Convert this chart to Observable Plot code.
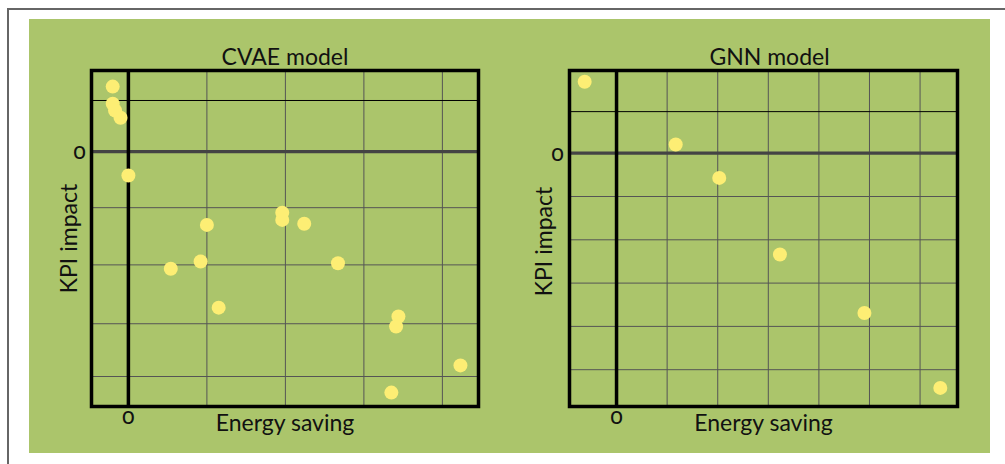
<!DOCTYPE html>
<html>
<head>
<meta charset="utf-8">
<script src="https://cdn.jsdelivr.net/npm/d3@7"></script>
<script src="https://cdn.jsdelivr.net/npm/@observablehq/plot@0.6"></script>
<style>
  html, body { margin: 0; padding: 0; background: #fff; width: 1005px; height: 464px; overflow: hidden; }
  #outer { position: absolute; left: 7px; top: 8px; width: 1020px; height: 480px; border: 2px solid #666; box-sizing: border-box; }
  #green { position: absolute; left: 29px; top: 19px; width: 961px; height: 434px; background: #abc56b; }
  #left { position: absolute; left: 29px; top: 19px; }
  #right { position: absolute; left: 509px; top: 19px; }
  svg text { font-family: Lato, "Noto Sans", sans-serif; }
  svg g.zero text { font-family: "Noto Sans", sans-serif; font-variant-numeric: oldstyle-nums; }
</style>
</head>
<body>
<div id="outer"></div>
<div id="green"></div>
<div id="left"></div>
<div id="right"></div>
<script>
// ---- CVAE model (left panel) ----
const cvaeEnergy = [-0.20, -0.20, -0.17, -0.10, 0.00, 1.00, 0.54, 0.92, 1.15, 1.96, 1.96, 2.24, 2.67, 3.44, 3.41, 4.23, 3.35];
const cvaeKpi    = [1.17, 0.86, 0.74, 0.61, -0.43, -1.32, -2.11, -1.98, -2.81, -1.10, -1.23, -1.30, -2.01, -2.97, -3.15, -3.85, -4.34];
const cvaeXGrid = [1, 2, 3, 4];
const cvaeYGridTop = [0.92];
const cvaeYGrid = [-1.01, -2.04, -3.10, -4.05];
const cvaeXDomain = [-0.47, 4.46];
const cvaeYDomain = [-4.59, 1.46];

// ---- GNN model (right panel) ----
const gnnEnergy = [-0.63, 1.17, 2.03, 3.23, 4.90, 6.40];
const gnnKpi    = [1.65, 0.20, -0.57, -2.34, -3.69, -5.42];
const gnnXGrid = [1, 2, 3, 4, 5, 6];
const gnnYGridTop = [0.96];
const gnnYGrid = [-1, -2, -3, -4, -5];
const gnnXDomain = [-0.93, 6.74];
const gnnYDomain = [-5.85, 1.91];

const titles = ["CVAE model", "GNN model"];
const xLabel = "Energy saving";
const yLabel = "KPI impact";
const zeroLabel = "0";

const dotColor = "#fdee74";
const fontSize = 23;

function panel({energy, kpi, xGrid, yGridTop, yGrid, xDomain, yDomain, title, width, marginLeft, marginRight, titleDx, yLabelDx, yLabelDy}) {
  const data = energy.map((e, i) => ({energy: e, kpi: kpi[i]}));
  return Plot.plot({
    width, height: 434,
    marginLeft, marginRight, marginTop: 51, marginBottom: 47,
    style: {background: "transparent", overflow: "visible"},
    x: {domain: xDomain, axis: null},
    y: {domain: yDomain, axis: null},
    marks: [
      Plot.gridX(xGrid, {stroke: "#555", strokeOpacity: 1, strokeWidth: 1}),
      Plot.gridY(yGrid, {stroke: "#555", strokeOpacity: 1, strokeWidth: 1}),
      Plot.gridY(yGridTop, {stroke: "#000", strokeOpacity: 1, strokeWidth: 1}),
      Plot.ruleY([0], {stroke: "#444", strokeWidth: 3.3}),
      Plot.ruleX([0], {stroke: "#000", strokeWidth: 3.5}),
      Plot.dot(data, {x: "energy", y: "kpi", r: 7, fill: dotColor, stroke: "none"}),
      Plot.frame({stroke: "#000", strokeWidth: 3.5}),
      Plot.text([title], {frameAnchor: "top", dy: -22, dx: titleDx, fontSize, fill: "#111"}),
      Plot.text([xLabel], {frameAnchor: "bottom", dy: 24, fontSize, fill: "#111"}),
      Plot.text([zeroLabel], {x: () => 0, frameAnchor: "bottom", dy: 17, fontSize, fill: "#111", textAnchor: "middle", className: "zero"}),
      Plot.text([zeroLabel], {y: () => 0, frameAnchor: "left", dx: -12, fontSize, fill: "#111", textAnchor: "middle", className: "zero"}),
      Plot.text([yLabel], {frameAnchor: "left", dx: yLabelDx, dy: yLabelDy, rotate: -90, fontSize, fill: "#111", textAnchor: "middle"})
    ]
  });
}

document.getElementById("left").appendChild(panel({
  energy: cvaeEnergy, kpi: cvaeKpi, xGrid: cvaeXGrid, yGridTop: cvaeYGridTop, yGrid: cvaeYGrid,
  xDomain: cvaeXDomain, yDomain: cvaeYDomain, title: titles[0],
  width: 480, marginLeft: 62, marginRight: 31, titleDx: 0, yLabelDx: -22, yLabelDy: 0
}));
document.getElementById("right").appendChild(panel({
  energy: gnnEnergy, kpi: gnnKpi, xGrid: gnnXGrid, yGridTop: gnnYGridTop, yGrid: gnnYGrid,
  xDomain: gnnXDomain, yDomain: gnnYDomain, title: titles[1],
  width: 481, marginLeft: 60, marginRight: 33, titleDx: 6, yLabelDx: -25, yLabelDy: 3
}));
</script>
</body>
</html>
